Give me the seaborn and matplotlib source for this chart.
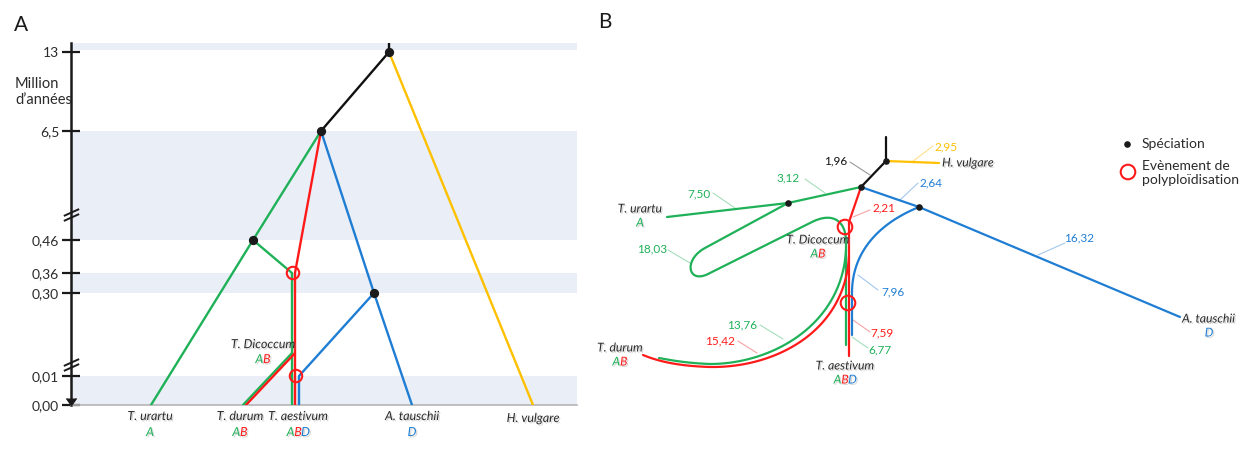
import numpy as np
import pandas as pd
import matplotlib
matplotlib.use('Agg')
import matplotlib.pyplot as plt
import seaborn as sns
from matplotlib import patheffects as pe
from matplotlib.transforms import offset_copy

sns.set_theme(style='white')
plt.rcParams['font.family'] = ['Lato', 'DejaVu Sans']

GREEN = '#1fb158'
RED = '#ff1a1a'
BLUE = '#1f7dd3'
YELLOW = '#ffc000'
BLACK = '#111111'
BAND = '#e9eef7'
TXT = '#2b2b2b'

# ---------------- panel A : time tree ----------------
tick_t = [13, 6.5, 0.46, 0.36, 0.30, 0.01, 0.00]
tick_labels = ['13', '6,5', '0,46', '0,36', '0,30', '0,01', '0,00']
bands_t = [(13.2, 13.75), (0.46, 6.5), (0.30, 0.36), (0.0, 0.01)]
breaks_t = [1.85, 0.05]

# broken time axis: time value -> height on the page
scale_t = [0, 0.01, 0.30, 0.36, 0.46, 6.5, 13, 13.75]
scale_h = [0, 29, 112, 132, 165, 274, 353, 362]

dicoccum_t = 0.09
branches_a = {
    BLACK: [[(389, 13.75), (389, 13)], [(389, 13), (321, 6.5)]],
    YELLOW: [[(389, 13), (533, 0)]],
    GREEN: [[(321, 6.5), (253, 0.46), (151, 0)],
            [(253, 0.46), (292, 0.36), (292, 0)],
            [(292, dicoccum_t), (243, 0)]],
    RED: [[(321, 6.5), (295, 0.36), (295, 0)],
          [(295, dicoccum_t), (246, 0)]],
    BLUE: [[(321, 6.5), (374, 0.30), (412, 0)],
           [(374, 0.30), (299, 0.01), (299, 0)]],
}
speciation_a = [(389, 13), (321, 6.5), (253, 0.46), (374, 0.30)]
polyploid_a = [(293, 0.36), (296, 0.01)]

leaf_names = ['T. urartu', 'T. durum', 'T. aestivum', 'A. tauschii', 'H. vulgare']
leaf_x = [150, 240, 298, 412, 533]
leaf_genomes = ['A', 'AB', 'ABD', 'D', '']

# ---------------- panel B : distance tree ----------------
branches_b = {
    BLACK: [[[(886, 137), (886, 161)], [(886, 161), (861, 187)]]],
    YELLOW: [[[(886, 161), (939, 163)]]],
    GREEN: [[[(861, 187), (788, 203)], [(788, 203), (667, 217)]],
            [[(788, 203), (705, 248)],
             [(705, 248), (683, 260), (688, 284), (708, 274)],
             [(708, 274), (812, 222)],
             [(812, 222), (832, 212), (846, 220), (846, 242)],
             [(846, 242), (846, 345)]],
            [[(846, 250), (842, 325), (772, 364), (710, 364)],
             [(710, 364), (685, 363), (670, 360), (659, 358)]]],
    RED: [[[(861, 187), (849, 222)], [(849, 222), (849, 356)]],
          [[(849, 256), (845, 332), (775, 368), (710, 367)],
           [(710, 367), (680, 366), (660, 362), (643, 355)]]],
    BLUE: [[[(861, 187), (919, 207)], [(919, 207), (1180, 317)]],
           [[(919, 207), (875, 225), (852, 255), (852, 293)],
            [(852, 293), (852, 335)]]],
}
speciation_b = [(886, 161), (861, 187), (788, 203), (919, 207)]
polyploid_b = [(845, 227), (848, 303)]

dist_labels = ['1,96', '2,95', '3,12', '7,50', '18,03', '2,21', '2,64',
               '16,32', '7,96', '7,59', '6,77', '13,76', '15,42']
dist_colors = [BLACK, YELLOW, GREEN, GREEN, GREEN, RED, BLUE,
               BLUE, BLUE, RED, GREEN, GREEN, RED]
dist_pos = [(836, 161), (946, 147), (788, 178), (699, 194), (652, 249),
            (884, 208), (931, 183), (1079, 238), (893, 292), (882, 333),
            (880, 350), (742, 325), (720, 341)]
dist_leader = [((850, 162), (870, 175)), ((912, 162), (933, 146)),
               ((805, 179), (825, 193)), ((713, 193), (735, 208)),
               ((668, 250), (690, 263)), ((870, 210), (853, 217)),
               ((918, 183), (900, 200)), ((1065, 243), (1038, 255)),
               ((858, 275), (878, 290)), ((853, 320), (870, 332)),
               ((852, 337), (868, 348)), ((760, 325), (783, 339)),
               ((738, 341), (757, 353))]

W, H = 1242, 450
fig = plt.figure(figsize=(W / 100, H / 100), dpi=100)
shadow = [pe.withSimplePatchShadow(offset=(1, -1), shadow_rgbFace='0.55', alpha=0.35)]
letter_col = {'A': GREEN, 'B': RED, 'D': BLUE}


def bezier(p0, p1, p2, p3, n=40):
    t = np.linspace(0, 1, n)[:, None]
    p0, p1, p2, p3 = map(np.asarray, (p0, p1, p2, p3))
    return (1 - t) ** 3 * p0 + 3 * (1 - t) ** 2 * t * p1 + 3 * (1 - t) * t ** 2 * p2 + t ** 3 * p3


def lines_frame(branches, curved):
    rows = []
    seg = 0
    for col, paths in branches.items():
        for path in paths:
            if curved:
                pts = []
                for piece in path:
                    pts.extend(piece if len(piece) == 2 else bezier(*piece).tolist())
            else:
                pts = path
            for x, y in pts:
                rows.append((seg, x, y, col))
            seg += 1
    return pd.DataFrame(rows, columns=['seg', 'x', 'y', 'col'])


def genome_text(ax, x, y, letters, coords='data', dy=0, size=9):
    w = 7.5
    for i, ch in enumerate(letters):
        ax.annotate(ch, xy=(x, y), xycoords=coords,
                    xytext=((i - (len(letters) - 1) / 2) * w, dy), textcoords='offset pixels',
                    ha='center', va='center', fontsize=size, style='italic',
                    color=letter_col[ch], path_effects=shadow, annotation_clip=False)


# ---- panel A
axA = fig.add_axes([71 / W, 45 / H, (577 - 71) / W, 362 / H])
dfa = lines_frame(branches_a, curved=False)
sns.lineplot(data=dfa, x='x', y='y', units='seg', estimator=None, sort=False,
             hue='col', palette={c: c for c in dfa['col'].unique()}, legend=False,
             lw=1.7, ax=axA, zorder=3)

fwd = lambda t: np.interp(t, scale_t, scale_h)
inv = lambda h: np.interp(h, scale_h, scale_t)
axA.set_yscale('function', functions=(fwd, inv))
axA.set_ylim(0, 13.75)
axA.set_xlim(71, 577)
for lo, hi in bands_t:
    axA.axhspan(lo, hi, color=BAND, lw=0, zorder=0)

axA.set_yticks(tick_t)
axA.set_yticklabels(tick_labels)
axA.yaxis.set_minor_locator(matplotlib.ticker.NullLocator())
axA.set_xticks([])
axA.tick_params(axis='y', direction='inout', length=13, width=1.6, color='k',
                left=True, labelsize=10, pad=2, labelcolor=TXT)
axA.set_xlabel('')
axA.set_ylabel('')
for s in ['top', 'right']:
    axA.spines[s].set_visible(False)
axA.spines['left'].set_color('k')
axA.spines['left'].set_linewidth(1.8)
axA.spines['bottom'].set_color('#b5b5b5')
axA.spines['bottom'].set_linewidth(1.2)
axA.plot(71, 0, marker=7, ms=7, color='k', clip_on=False, zorder=5)
for bt in breaks_t:
    for dy in (-2.5, 2.5):
        tr = offset_copy(axA.transData, fig=fig, x=0, y=dy, units='dots')
        axA.plot(71, bt, marker=[(-1, -0.45), (1, 0.45)], ms=11, mew=1.4,
                 color='k', transform=tr, clip_on=False, zorder=6)

sx, sy = zip(*speciation_a)
axA.scatter(sx, sy, s=32, color='k', zorder=6)
px_, py_ = zip(*polyploid_a)
axA.scatter(px_, py_, s=80, facecolor='none', edgecolor=RED, lw=1.5, zorder=6)

for name, x, g in zip(leaf_names, leaf_x, leaf_genomes):
    dy = -11 if g else -13
    axA.annotate(name, xy=(x, 0), xytext=(0, dy), textcoords='offset pixels',
                 ha='center', va='center', fontsize=9, style='italic', color=TXT,
                 path_effects=shadow, annotation_clip=False)
    if g:
        genome_text(axA, x, 0, g, dy=-27)

axA.annotate('T. Dicoccum', xy=(263, dicoccum_t), xytext=(0, 9), textcoords='offset pixels',
             ha='center', va='center', fontsize=9, style='italic', color=TXT,
             path_effects=shadow)
genome_text(axA, 263, dicoccum_t, 'AB', dy=-6)

fig.text(15 / W, 1 - 92 / H, 'Million\nd\u2019années', ha='left', va='center',
         fontsize=10.5, color=TXT, linespacing=1.25)
fig.text(14 / W, 1 - 25 / H, 'A', fontsize=15, color='k', va='center', ha='left')
fig.text(598 / W, 1 - 22 / H, 'B', fontsize=15, color='k', va='center', ha='left')

# ---- panel B
axB = fig.add_axes([590 / W, 0, (W - 590) / W, 1])
dfb = lines_frame(branches_b, curved=True)
sns.lineplot(data=dfb, x='x', y='y', units='seg', estimator=None, sort=False,
             hue='col', palette={c: c for c in dfb['col'].unique()}, legend=False,
             lw=1.6, ax=axB, zorder=3)
axB.set_xlim(590, W)
axB.set_ylim(H, 0)
axB.axis('off')

sx, sy = zip(*speciation_b)
axB.scatter(sx, sy, s=14, color='k', zorder=6)
px_, py_ = zip(*polyploid_b)
axB.scatter(px_, py_, s=110, facecolor='none', edgecolor=RED, lw=1.5, zorder=6)

light = {BLACK: '#9a9a9a', YELLOW: '#ffe08a', GREEN: '#a6dfbc', RED: '#f5a3a3', BLUE: '#a3c8ee'}
for lab, col, (x, y), (p, q) in zip(dist_labels, dist_colors, dist_pos, dist_leader):
    axB.text(x, y, lab, color=col, fontsize=8.5, ha='center', va='center')
    axB.plot([p[0], q[0]], [p[1], q[1]], color=light[col], lw=0.8, zorder=2)

b_leaves = [('T. urartu', 640, 209, 'A', 'center'), ('T. durum', 620, 348, 'AB', 'center'),
            ('T. Dicoccum', 818, 240, 'AB', 'center'), ('T. aestivum', 845, 366, 'ABD', 'center'),
            ('H. vulgare', 942, 163, '', 'left'), ('A. tauschii', 1182, 319, 'D', 'left')]
for name, x, y, g, ha in b_leaves:
    axB.text(x, y, name, fontsize=8.8, style='italic', color=TXT, ha=ha, va='center',
             path_effects=shadow)
    if g:
        gx = x if ha == 'center' else x + 27
        genome_text(axB, gx, y, g, dy=-14, size=8.8)

axB.scatter([1127], [144], s=14, color='k')
axB.scatter([1128], [172], s=110, facecolor='none', edgecolor=RED, lw=1.5)
axB.text(1142, 144, 'Spéciation', fontsize=10, color=TXT, va='center', ha='left')
axB.text(1142, 173, 'Evènement de\npolyploïdisation', fontsize=10, color=TXT,
         va='center', ha='left', linespacing=1.2)

fig.savefig('out.png', dpi=100)
